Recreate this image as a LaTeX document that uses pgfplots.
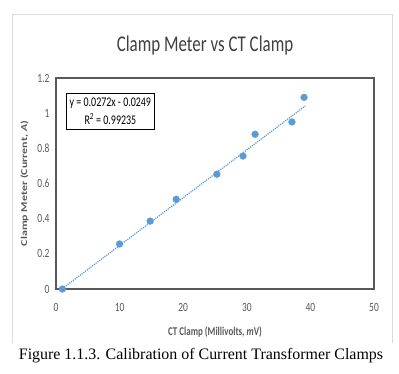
\documentclass[border=0pt]{standalone}
\usepackage{pgfplots}
\pgfplotsset{compat=1.18}
\usepackage{fontspec}
\setmainfont{Carlito}
\newfontfamily\timesfont{Liberation Serif}
\definecolor{txtgray}{HTML}{595959}
\definecolor{titlegray}{HTML}{404040}
\definecolor{ptblue}{HTML}{5B9BD5}
\definecolor{framegray}{HTML}{D9D9D9}
\newcommand{\vs}[1]{\scalebox{1}[1.33]{#1}}
\begin{document}
\begin{tikzpicture}[x=1bp,y=1bp]
\useasboundingbox (0,0) rectangle (399,374);
\draw[framegray, line width=0.8bp] (12,31) -- (12,360) -- (392,360) -- (392,31);
\node[text=titlegray, font=\fontsize{17}{20}\selectfont] at (205,329) {\vs{Clamp Meter vs CT Clamp}};
\node[font=\timesfont\fontsize{16}{19}\selectfont] at (201,18) {Figure 1.1.3. Calibration of Current Transformer Clamps};
\begin{axis}[
  at={(56bp,85bp)}, anchor=south west,
  scale only axis, width=318bp, height=211bp,
  xmin=0, xmax=50, ymin=0, ymax=1.2,
  xtick={0,10,...,50}, ytick={0,0.2,...,1.2},
  yticklabels={\vs{0},\vs{0.2},\vs{0.4},\vs{0.6},\vs{0.8},\vs{1},\vs{1.2}},
  xticklabels={\vs{0},\vs{10},\vs{20},\vs{30},\vs{40},\vs{50}},
  major tick length=0pt,
  axis line style={draw=txtgray, line width=1.2bp},
  tick label style={text=txtgray, font=\fontsize{9.5}{11}\selectfont},
  xticklabel style={yshift=-11bp},
  yticklabel style={xshift=-3bp},
  xlabel={\vs{\textbf{CT Clamp (Millivolts, \textit{m}V)}}},
  ylabel={\scalebox{1.33}[1]{\textbf{Clamp Meter (Current, \textit{A})}}},
  label style={text=txtgray, font=\fontsize{9}{10}\selectfont},
  xlabel style={yshift=-8bp},
  ylabel style={yshift=2bp},
  clip=false,
]
\addplot[ptblue, densely dotted, line width=1.2bp, no marks] coordinates {(1,0.0023) (39.2,1.0413)};
\addplot[only marks, mark=*, mark size=3.4bp, ptblue, mark options={draw=ptblue, fill=ptblue}] coordinates {
(1,0.0) (10.0,0.256) (14.8,0.386) (18.9,0.51) (25.3,0.653) (29.4,0.756) (31.3,0.88) (37.1,0.95) (39.0,1.09)
};
\node[draw=black, line width=1bp, fill=white, align=center, inner xsep=3bp, inner ysep=4.5bp, font=\fontsize{10}{18}\selectfont, anchor=north west] at (axis cs:1.6,1.114) {\vs{y = 0.0272x - 0.0249}\\\vs{R\textsuperscript{2} = 0.99235}};
\end{axis}
\end{tikzpicture}
\end{document}
